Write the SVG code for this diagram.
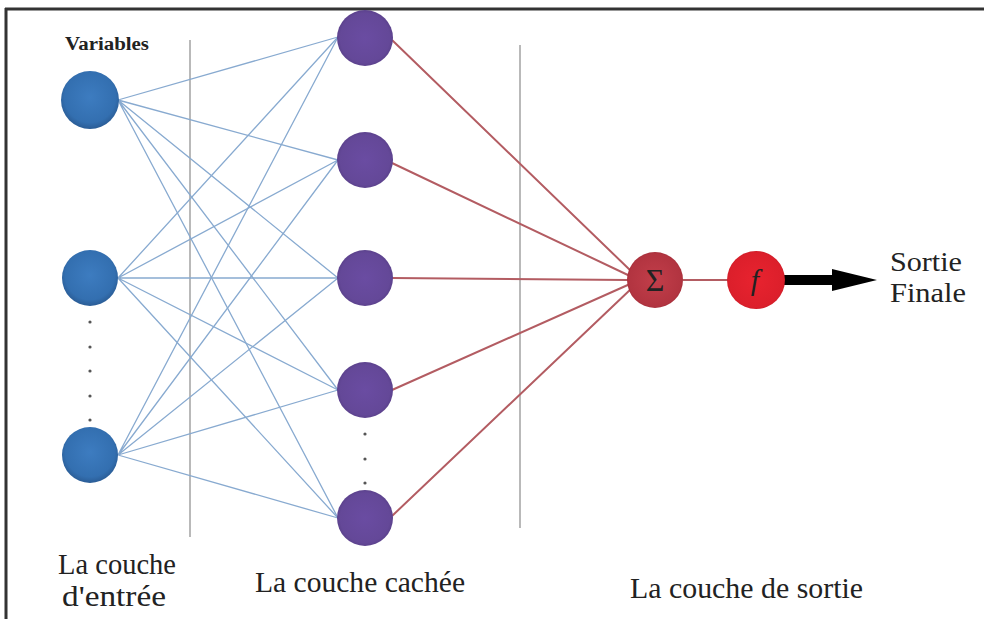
<svg xmlns="http://www.w3.org/2000/svg" width="984" height="619" viewBox="0 0 984 619">
  <defs>
    <radialGradient id="gIn" cx="50%" cy="45%" r="55%">
      <stop offset="0%" stop-color="#3d7cc0"/>
      <stop offset="80%" stop-color="#336fb0"/>
      <stop offset="100%" stop-color="#2a5c95"/>
    </radialGradient>
    <radialGradient id="gHid" cx="50%" cy="50%" r="55%">
      <stop offset="0%" stop-color="#6a4ca2"/>
      <stop offset="80%" stop-color="#644898"/>
      <stop offset="100%" stop-color="#553d84"/>
    </radialGradient>
    <radialGradient id="gSum" cx="50%" cy="50%" r="55%">
      <stop offset="0%" stop-color="#c23e4a"/>
      <stop offset="85%" stop-color="#b23440"/>
      <stop offset="100%" stop-color="#962a35"/>
    </radialGradient>
    <radialGradient id="gF" cx="50%" cy="50%" r="55%">
      <stop offset="0%" stop-color="#e8232f"/>
      <stop offset="85%" stop-color="#dc1f2b"/>
      <stop offset="100%" stop-color="#c01a25"/>
    </radialGradient>
    <style>
      .blue { stroke: #88aad0; stroke-width: 1.3; fill: none; }
      .red { stroke: #b35c62; stroke-width: 2; fill: none; }
      .sep { stroke: #8a8a8a; stroke-width: 1.2; }
      .dot { fill: #555; }
      .lbl { font-family: "Liberation Serif", "DejaVu Serif", serif; fill: #222; }
    </style>
  </defs>

  <rect width="984" height="619" fill="#fff"/>
  <!-- frame -->
  <line x1="5" y1="9" x2="984" y2="9" stroke="#333" stroke-width="3"/>
  <line x1="6" y1="8" x2="6" y2="619" stroke="#333" stroke-width="3"/>

  <!-- layer separators -->
  <line class="sep" x1="190" y1="40" x2="190" y2="537"/>
  <line class="sep" x1="520" y1="45" x2="520" y2="528"/>

  <g id="connectors">
    <!-- input to hidden -->
    <path class="blue" d="M118,100 L338,37 M118,100 L338,160 M118,100 L338,278 M118,100 L338,390 M118,100 L338,518"/>
    <path class="blue" d="M118,278 L338,37 M118,278 L338,160 M118,278 L338,278 M118,278 L338,390 M118,278 L338,518"/>
    <path class="blue" d="M118,455 L338,37 M118,455 L338,160 M118,455 L338,278 M118,455 L338,390 M118,455 L338,518"/>
    <!-- hidden to sum -->
    <path class="red" d="M392,40 L632,272 M392,163 L630,276 M392,278 L628,280 M392,390 L630,284 M392,516 L632,288"/>
    <!-- sum to activation -->
    <line class="red" x1="683" y1="280" x2="728" y2="280"/>
    <!-- output arrow -->
    <line x1="784" y1="280" x2="836" y2="280" stroke="#000" stroke-width="10"/>
    <polygon points="832,269 877,280 832,291" fill="#000"/>
  </g>

  <g id="input-layer">
    <g id="in1"><circle cx="90" cy="100" r="29" fill="url(#gIn)"/></g>
    <g id="in2"><circle cx="90" cy="278" r="28" fill="url(#gIn)"/></g>
    <g id="in3"><circle cx="90" cy="455" r="28" fill="url(#gIn)"/></g>
    <circle class="dot" cx="90" cy="322" r="1.6"/>
    <circle class="dot" cx="90" cy="347" r="1.6"/>
    <circle class="dot" cx="90" cy="371" r="1.6"/>
    <circle class="dot" cx="90" cy="396" r="1.6"/>
    <circle class="dot" cx="90" cy="420" r="1.6"/>
  </g>

  <g id="hidden-layer">
    <g id="h1"><circle cx="365" cy="38" r="28" fill="url(#gHid)"/></g>
    <g id="h2"><circle cx="365" cy="160" r="28" fill="url(#gHid)"/></g>
    <g id="h3"><circle cx="365" cy="278" r="28" fill="url(#gHid)"/></g>
    <g id="h4"><circle cx="365" cy="390" r="28" fill="url(#gHid)"/></g>
    <g id="h5"><circle cx="365" cy="518" r="28" fill="url(#gHid)"/></g>
    <circle class="dot" cx="365" cy="434" r="1.6"/>
    <circle class="dot" cx="365" cy="459" r="1.6"/>
    <circle class="dot" cx="365" cy="483" r="1.6"/>
  </g>

  <g id="sum">
    <circle cx="655" cy="280" r="28" fill="url(#gSum)"/>
    <text class="lbl" x="655" y="291" font-size="32" text-anchor="middle" fill="#2a0c10">Σ</text>
  </g>
  <g id="activation">
    <circle cx="756" cy="280" r="29" fill="url(#gF)"/>
    <text class="lbl" x="755" y="290" font-size="30" font-style="italic" text-anchor="middle" fill="#3a0a0e">f</text>
  </g>

  <!-- texts -->
  <text class="lbl" x="65" y="50" font-size="18" font-weight="bold" fill="#333" textLength="84" lengthAdjust="spacingAndGlyphs">Variables</text>
  <text class="lbl" x="890" y="271" font-size="27" fill="#333" textLength="72" lengthAdjust="spacingAndGlyphs">Sortie</text>
  <text class="lbl" x="890" y="302" font-size="27" fill="#333" textLength="76" lengthAdjust="spacingAndGlyphs">Finale</text>
  <text class="lbl" x="58" y="574" font-size="29" textLength="118" lengthAdjust="spacingAndGlyphs">La couche</text>
  <text class="lbl" x="62" y="606" font-size="29" textLength="104" lengthAdjust="spacingAndGlyphs">d'entrée</text>
  <text class="lbl" x="255" y="592" font-size="29" textLength="210" lengthAdjust="spacingAndGlyphs">La couche cachée</text>
  <text class="lbl" x="630" y="598" font-size="29" textLength="233" lengthAdjust="spacingAndGlyphs">La couche de sortie</text>
</svg>
